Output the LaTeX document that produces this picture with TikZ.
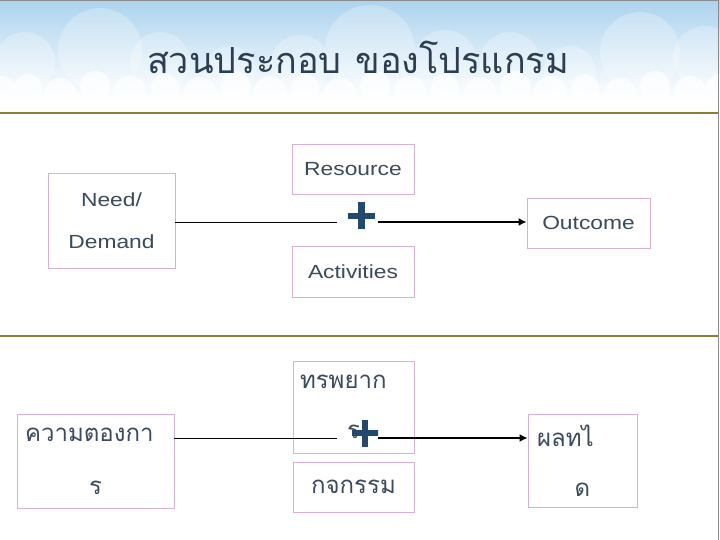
\documentclass[tikz,border=0pt]{standalone}
\usepackage{fontspec}
\setmainfont{Liberation Sans}[FakeStretch=1.2]
\newfontfamily\thaifont[Script=Thai]{Loma}
\usetikzlibrary{arrows.meta}

\definecolor{titleink}{HTML}{2C3E50}
\definecolor{boxink}{HTML}{3B4B5C}
\definecolor{boxline}{HTML}{D8B2D2}
\definecolor{plusblue}{HTML}{23496F}
\definecolor{ruleline}{HTML}{8A7D3E}
\definecolor{sky}{HTML}{ACD3EE}
\definecolor{frameline}{HTML}{8C8C8C}

\tikzset{
  box/.style={draw=boxline, line width=0.8pt, fill=white, inner sep=0pt, text=boxink, align=center},
  latin/.style={font=\fontsize{19}{42}\selectfont},
  thai/.style={font=\thaifont\fontsize{24}{50}\selectfont},
  plusmark/.style 2 args={minimum width=41pt, minimum height=50pt, inner sep=0pt,
    path picture={\draw[plusblue, line width=6.5pt]
      ([xshift=#1, yshift=#2]path picture bounding box.center) +(-13.5pt,0) -- +(13.5pt,0)
      +(0,-13.5pt) -- +(0,13.5pt);}},
  thinline/.style={line width=0.9pt},
  thickline/.style={line width=2.6pt, -{Latex[length=8pt,width=8pt]}}
}

\begin{document}
\begin{tikzpicture}[x=1pt, y=-1pt]
  \useasboundingbox (0,0) rectangle (720,540);
  % --- banner ---
  \shade[top color=sky, bottom color=white] (0,0) rectangle (720,100);
  \foreach \cx/\cy/\r in {100/50/42, 25/62/30, 160/62/30, 370/50/45, 300/65/30,
                          445/62/32, 510/62/30, 640/52/40, 705/58/32, 230/72/26, 570/72/26}
    \fill[white, opacity=0.25] (\cx,\cy) circle[radius=\r pt];
  \foreach \cx/\cy/\r in {0/92/16, 28/88/14, 60/94/16, 95/86/15, 130/92/16, 165/88/14,
                          200/93/16, 235/86/15, 270/92/16, 305/88/14, 340/94/16, 375/86/15,
                          410/92/16, 445/88/14, 480/93/16, 515/86/15, 550/92/16, 585/88/14,
                          620/94/16, 655/86/15, 690/92/16, 720/88/14}
    \fill[white, opacity=0.7] (\cx,\cy) circle[radius=\r pt];
  \fill[white] (0,100) rectangle (718,113);
  \node[text=titleink, font=\thaifont\fontsize{36}{44}\selectfont] (title) at (358,57)
    {สวนประกอบ\hspace{14pt}ของโปรแกรม};

  % --- frame and rules ---
  \draw[frameline, line width=1pt] (0,0.5) -- (718.5,0.5) -- (718.5,540);
  \draw[ruleline, line width=1.2pt] (0,113) -- (718,113);
  \draw[ruleline, line width=1.2pt] (0,336) -- (718,336);

  % --- English ---
  \node[box, latin, minimum width=127pt, minimum height=95pt] (need) at (111.5,220.5) {Need/\\Demand};
  \node[box, latin, minimum width=122pt, minimum height=50pt] (res) at (353,169) {Resource};
  \node[box, latin, minimum width=122pt, minimum height=51pt] (act) at (353,271.5) {Activities};
  \node[box, latin, minimum width=123pt, minimum height=50pt] (out) at (588.5,223) {Outcome};
  \node[plusmark={4pt}{6pt}] (plusA) at (357.5,222) {};
  \draw[thinline] (need.east |- plusA.west) -- (plusA.west);
  \draw[thickline] (plusA.east) -- (plusA.east -| out.west);

  % --- Thai ---
  \node[box, thai, minimum width=157pt, minimum height=94pt] (need th) at (95.5,461)
    {\makebox[141pt][l]{ความตองกา}\\[3pt]ร};
  \node[box, thai, minimum width=121pt, minimum height=92pt] (res th) at (353.5,407)
    {\makebox[107pt][l]{ทรพยาก}\\ร};
  \node[box, thai, minimum width=121pt, minimum height=50pt] (act th) at (353.5,487) {กจกรรม};
  \node[box, thai, minimum width=109pt, minimum height=93pt] (out th) at (582.5,460.5)
    {\makebox[91pt][l]{ผลทไ}\\ด};
  \node[plusmark={7.5pt}{5pt}] (plusB) at (357.5,438) {};
  \draw[thinline] (need th.east |- plusB.west) -- (plusB.west);
  \draw[thickline] (plusB.east) -- (plusB.east -| out th.west);
\end{tikzpicture}
\end{document}
